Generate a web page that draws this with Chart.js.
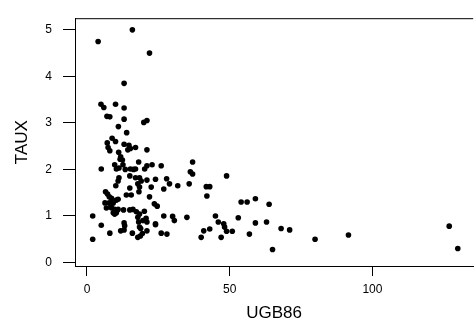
<!DOCTYPE html>
<html>
<head>
<meta charset="utf-8">
<script src="https://cdn.jsdelivr.net/npm/chart.js@4.4.1/dist/chart.umd.min.js"></script>
<style>
  html, body { margin: 0; padding: 0; background: #fff; }
  #wrap { width: 476px; height: 329px; }
</style>
</head>
<body>
<div id="wrap"><canvas id="scatter" width="476" height="329"></canvas></div>
<script>
// values
var ugb86 = [15.9, 3.9, 21.9, 13.0, 4.9, 5.9, 10.0, 13.0, 7.0, 8.0, 13.0, 19.9, 21.0, 11.0, 13.9, 8.8, 10.0,
  7.1, 7.4, 8.0, 11.1, 13.0, 14.7, 15.2, 14.3, 17.0, 21.0, 11.8, 12.4, 12.6, 9.7, 18.1, 21.0, 22.8, 26.0, 37.0,
  5.0, 10.3, 11.2, 15.2, 17.0, 20.2, 36.2, 37.0, 11.2, 10.9, 15.0, 17.0, 18.4, 19.0, 21.0, 24.0, 27.9, 28.9,
  31.8, 35.8, 10.1, 17.8, 18.4, 15.0, 22.5, 26.9, 6.5, 7.2, 7.8, 8.6, 10.3, 13.8, 15.5, 18.2, 21.9, 6.3, 7.8,
  9.2, 10.9, 6.8, 8.6, 9.7, 10.9, 23.6, 24.6, 15.0, 17.3, 18.4, 17.8, 20.7, 26.9, 30.0, 30.6, 35.0, 2.0, 9.7,
  9.2, 10.3, 5.0, 13.0, 18.1, 18.4, 21.0, 24.0, 11.8, 13.0, 15.9, 18.8, 21.0, 8.0, 26.0, 28.0, 2.0, 17.8, 18.7,
  48.9, 41.8, 43.0, 42.0, 54.0, 56.1, 59.0, 63.8, 45.0, 46.0, 47.9, 48.2, 48.9, 50.9, 53.0, 59.0, 62.9, 40.9,
  43.0, 40.0, 47.0, 56.9, 68.0, 71.0, 79.9, 65.0, 91.6, 126.9, 129.9,
  11.6, 16.3, 13.4, 12.8, 13.2, 19.6, 20.1, 19.4, 16.1, 8.4, 24.0];
var taux = [5.00, 4.75, 4.50, 3.85, 3.40, 3.33, 3.40, 3.32, 3.14, 3.13, 3.08, 3.01, 3.05, 2.92, 2.79, 2.67, 2.60,
  2.57, 2.47, 2.40, 2.37, 2.54, 2.52, 2.45, 2.42, 2.47, 2.42, 2.27, 2.20, 2.10, 2.10, 2.16, 2.08, 2.10, 2.08, 2.16,
  2.01, 2.01, 2.03, 2.01, 2.01, 2.01, 1.95, 1.90, 1.82, 1.75, 1.86, 1.82, 1.82, 1.75, 1.77, 1.79, 1.80, 1.69,
  1.65, 1.69, 1.65, 1.69, 1.62, 1.60, 1.62, 1.58, 1.52, 1.47, 1.41, 1.38, 1.34, 1.45, 1.45, 1.52, 1.41, 1.28, 1.28,
  1.28, 1.36, 1.17, 1.17, 1.14, 1.14, 1.26, 1.21, 1.13, 1.09, 1.04, 0.97, 0.95, 1.00, 0.99, 0.90, 0.97, 1.00, 1.04,
  1.07, 1.07, 0.80, 0.85, 0.87, 0.76, 0.87, 0.81, 0.68, 0.70, 0.63, 0.73, 0.68, 0.63, 0.63, 0.61, 0.50, 0.54, 0.57,
  1.86, 1.63, 1.63, 1.43, 1.30, 1.30, 1.37, 1.25, 1.00, 0.87, 0.83, 0.76, 0.67, 0.67, 0.96, 0.85, 0.87, 0.68,
  0.72, 0.54, 0.54, 0.61, 0.73, 0.70, 0.50, 0.28, 0.59, 0.78, 0.30,
  2.22, 2.00, 2.00, 1.13, 0.79, 0.90, 1.10, 0.62, 1.14, 1.22, 0.83];
var xTicks = [0, 50, 100];
var yTicks = [0, 1, 2, 3, 4, 5];

var pts = [];
for (var i = 0; i < ugb86.length; i++) {
  pts.push({ x: ugb86[i], y: taux[i] });
}

// top edge of the frame (left and bottom come from the scale borders)
var frameTop = {
  id: 'frameTop',
  afterDraw: function(chart) {
    var a = chart.chartArea, ctx = chart.ctx;
    ctx.save();
    ctx.strokeStyle = '#000';
    ctx.lineWidth = 1;
    ctx.beginPath();
    ctx.moveTo(a.left, a.top + 0.5);
    ctx.lineTo(a.right, a.top + 0.5);
    ctx.stroke();
    ctx.restore();
  }
};

Chart.defaults.font.family = '"Liberation Sans", Arial, sans-serif';
Chart.defaults.color = '#000';

new Chart(document.getElementById('scatter'), {
  type: 'scatter',
  data: {
    datasets: [{
      data: pts,
      backgroundColor: '#000',
      borderWidth: 0,
      pointRadius: 2.8,
      pointHoverRadius: 2.8
    }]
  },
  options: {
    responsive: false,
    animation: false,
    devicePixelRatio: 1,
    layout: { padding: { top: 6, right: 0, left: 0, bottom: 0 } },
    plugins: { legend: { display: false }, tooltip: { enabled: false } },
    scales: {
      x: {
        type: 'linear',
        min: -4.2,
        max: 135.3,
        afterBuildTicks: function(s) { s.ticks = xTicks.map(function(v) { return { value: v }; }); },
        afterFit: function(s) { s.height = 63; },
        grid: { drawOnChartArea: false, drawTicks: true, tickLength: 10, color: '#000' },
        border: { display: true, color: '#000', width: 1 },
        ticks: { padding: 6, font: { size: 12 }, maxRotation: 0 },
        title: { display: true, text: 'UGB86', font: { size: 17 }, padding: { top: 0, bottom: 5 } }
      },
      y: {
        type: 'linear',
        min: -0.076,
        max: 5.25,
        afterBuildTicks: function(s) { s.ticks = yTicks.map(function(v) { return { value: v }; }); },
        afterFit: function(s) { s.width = 75; },
        grid: { drawOnChartArea: false, drawTicks: true, tickLength: 12, color: '#000' },
        border: { display: true, color: '#000', width: 1 },
        ticks: { padding: 11, font: { size: 12 } },
        title: { display: true, text: 'TAUX', font: { size: 17 }, padding: { top: 12, bottom: 0 } }
      }
    }
  },
  plugins: [frameTop]
});
</script>
</body>
</html>
